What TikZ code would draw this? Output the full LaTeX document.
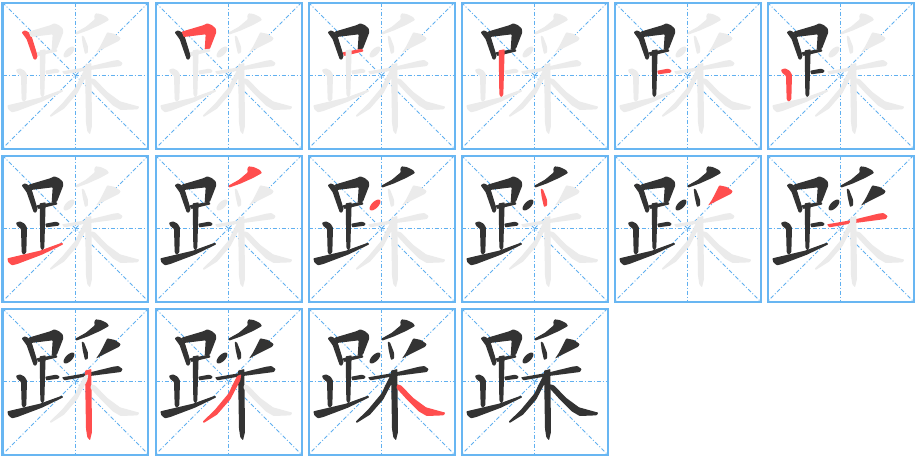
\documentclass[tikz,border=0pt]{standalone}
\definecolor{gbox}{RGB}{104,182,242}
\definecolor{gguide}{RGB}{96,176,240}
\definecolor{sgray}{RGB}{235,235,235}
\definecolor{sblack}{RGB}{51,51,51}
\definecolor{sred}{RGB}{255,78,78}
\tikzset{
  panelbox/.style={draw=gbox,line width=2pt},
  guide/.style={draw=gguide,line width=0.8pt,dash pattern=on 4pt off 2pt on 1pt off 2pt},
  strk/.style={rounded corners=0.7pt}
}
\newcommand\drawstroke[2]{%
\ifcase#1\or
% 1 left vertical of kou
\fill[strk,#2] (65,97) -- (74,91) -- (84,95) -- (94,106) -- (113,168) -- (108,179) -- (101,178) -- (80,118) -- cycle;
\or
% 2 heng-zhe of kou
\fill[strk,#2] (86,95) -- (150,76) -- (163,70) -- (176,75) -- (188,85) -- (190,97) -- (171,146) -- (155,149) -- (158,103) -- (92,111) -- cycle;
\or
% 3 bottom horizontal of kou
\fill[strk,#2] (110,157) -- (168,146) -- (173,154) -- (114,168) -- cycle;
\or
% 4 middle vertical
\fill[strk,#2] (119,151) -- (137,148) -- (133,284) -- (127,292) -- (121,284) -- cycle;
\or
% 5 short horizontal
\fill[strk,#2] (136,212) -- (168,206) -- (179,211) -- (176,218) -- (138,223) -- cycle;
\or
% 6 left vertical
\fill[strk,#2] (48,209) -- (60,205) -- (74,212) -- (81,224) -- (79,298) -- (71,306) -- (65,298) -- (63,228) -- (51,218) -- cycle;
\or
% 7 rising stroke
\fill[strk,#2] (22,316) -- (120,293) -- (186,269) -- (190,274) -- (126,305) -- (52,333) -- (36,337) -- (25,328) -- cycle;
\or
% 8 top pie of cai
\fill[strk,#2] (287,40) -- (302,42) -- (321,51) -- (327,60) -- (300,75) -- (262,92) -- (228,104) -- (226,98) -- (258,80) -- (284,58) -- (283,47) -- cycle;
\or
% 9 left dot
\fill[#2,rotate around={45:(207,156)}] (207,156) ellipse [x radius=21, y radius=10];
\or
% 10 middle dot
\fill[strk,#2] (245,107) -- (252,109) -- (264,140) -- (264,158) -- (255,162) -- (248,132) -- cycle;
\or
% 11 right pie
\fill[strk,#2] (322,97) -- (345,102) -- (362,114) -- (358,122) -- (302,150) -- (288,158) -- (300,140) -- cycle;
\or
% 12 horizontal of mu
\fill[strk,#2] (186,214) -- (262,201) -- (340,182) -- (355,180) -- (368,189) -- (363,198) -- (262,211) -- (193,223) -- cycle;
\or
% 13 vertical of mu
\fill[strk,#2] (255,194) -- (274,189) -- (276,378) -- (270,403) -- (262,394) -- (258,368) -- cycle;
\or
% 14 pie of mu
\fill[strk,#2] (252,210) -- (265,205) -- (262,223) -- (232,280) -- (192,326) -- (152,351) -- (149,347) -- (186,311) -- (226,263) -- cycle;
\or
% 15 na of mu
\fill[strk,#2] (274,235) -- (285,238) -- (322,276) -- (360,304) -- (418,320) -- (413,328) -- (362,330) -- (338,316) -- (303,281) -- (271,246) -- cycle;
\fi}
\begin{document}
\begin{tikzpicture}[x=1pt,y=-1pt]
\useasboundingbox (0,0) rectangle (915,456);
\fill[white] (0,0) rectangle (915,456);
\foreach \k in {1,...,16}{
  \pgfmathtruncatemacro\r{(\k-1)/6}
  \pgfmathtruncatemacro\c{\k-1-6*\r}
  \begin{scope}[shift={(153*\c,153*\r)},scale=1/3]
    \draw[guide] (7.5,7.5) -- (445.5,445.5);
    \draw[guide] (445.5,7.5) -- (7.5,445.5);
    \draw[guide] (226.5,7.5) -- (226.5,445.5);
    \draw[guide] (7.5,226.5) -- (445.5,226.5);
    \foreach \s in {1,...,15}{
      \ifnum\s<\k
        \drawstroke{\s}{sblack}
      \else
        \ifnum\s=\k
          \drawstroke{\s}{sred}
        \else
          \drawstroke{\s}{sgray}
        \fi
      \fi
    }
    \draw[panelbox] (7.5,7.5) rectangle (445.5,445.5);
  \end{scope}
}
\end{tikzpicture}
\end{document}
